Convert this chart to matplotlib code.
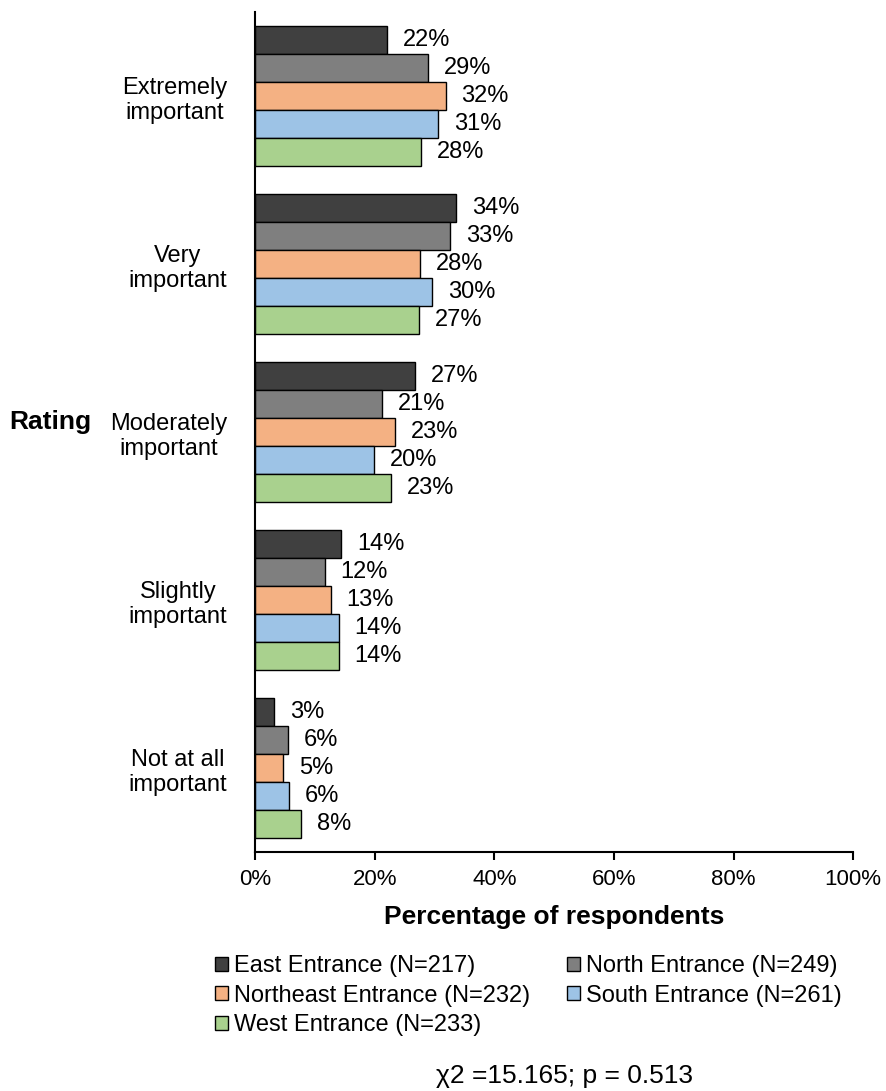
import matplotlib
matplotlib.use("Agg")
import matplotlib.pyplot as plt
import numpy as np

plt.rcParams['font.family'] = ['Liberation Sans', 'DejaVu Sans']

categories = ["Extremely\nimportant", "Very\nimportant", "Moderately\nimportant",
              "Slightly\nimportant", "Not at all\nimportant"]
series_names = ["East Entrance (N=217)", "North Entrance (N=249)",
                "Northeast Entrance (N=232)", "South Entrance (N=261)",
                "West Entrance (N=233)"]
east = [22.1, 33.6, 26.8, 14.4, 3.2]
north = [28.9, 32.6, 21.2, 11.6, 5.5]
northeast = [31.9, 27.6, 23.4, 12.6, 4.7]
south = [30.6, 29.6, 19.9, 14.0, 5.7]
west = [27.8, 27.4, 22.7, 14.0, 7.7]
colors = ["#404040", "#7f7f7f", "#f4b183", "#9dc3e6", "#a9d18e"]
xticks = [0, 20, 40, 60, 80, 100]

all_series = [east, north, northeast, south, west]

fig = plt.figure(figsize=(8.86, 10.91), dpi=100)
ax = fig.add_axes([0.288, 0.219, 0.675, 0.770])

n_cat = len(categories)
n_ser = len(all_series)
bh = 0.1667
handles = []
for j, (vals, c, name) in enumerate(zip(all_series, colors, series_names)):
    y = np.arange(n_cat) + (j - (n_ser - 1) / 2) * bh
    b = ax.barh(y, vals, height=bh, color=c, edgecolor="black", linewidth=1.0, label=name)
    handles.append(b)
    for yy, v in zip(y, vals):
        ax.text(v + 2.6, yy, f"{round(v):d}%", va="center", ha="left", fontsize=17)

ax.set_ylim(n_cat - 0.5, -0.5)
ax.set_xlim(0, 100)
ax.set_xticks(xticks)
ax.set_xticklabels([f"{t}%" for t in xticks], fontsize=16)
ax.set_yticks(np.arange(n_cat))
ax.set_yticklabels(categories, fontsize=17, multialignment="center", linespacing=1.2)
ax.tick_params(axis="y", length=0, pad=20)
ax.tick_params(axis="x", length=6, width=1.5, direction="out", pad=6)
for s in ["top", "right"]:
    ax.spines[s].set_visible(False)
for s in ["left", "bottom"]:
    ax.spines[s].set_linewidth(1.5)

ax.set_xlabel("Percentage of respondents", fontsize=19, fontweight="bold", labelpad=11)
fig.text(50 / 886, 1 - 422 / 1091, "Rating", fontsize=19, fontweight="bold",
         ha="center", va="center")

order = [0, 2, 4, 1, 3]
fig.legend([handles[i] for i in order], [series_names[i] for i in order],
           ncol=2, loc="upper left", bbox_to_anchor=(215 / 886, 1 - 955 / 1091),
           frameon=False, fontsize=17, handlelength=0.55, handleheight=0.55,
           handletextpad=0.25, columnspacing=1.55, labelspacing=0.32, borderaxespad=0,
           borderpad=0)

fig.text(565 / 886, 1 - 1076 / 1091, "χ2 =15.165; p = 0.513", fontsize=19,
         ha="center", va="center")

fig.savefig("out.png", dpi=100)
